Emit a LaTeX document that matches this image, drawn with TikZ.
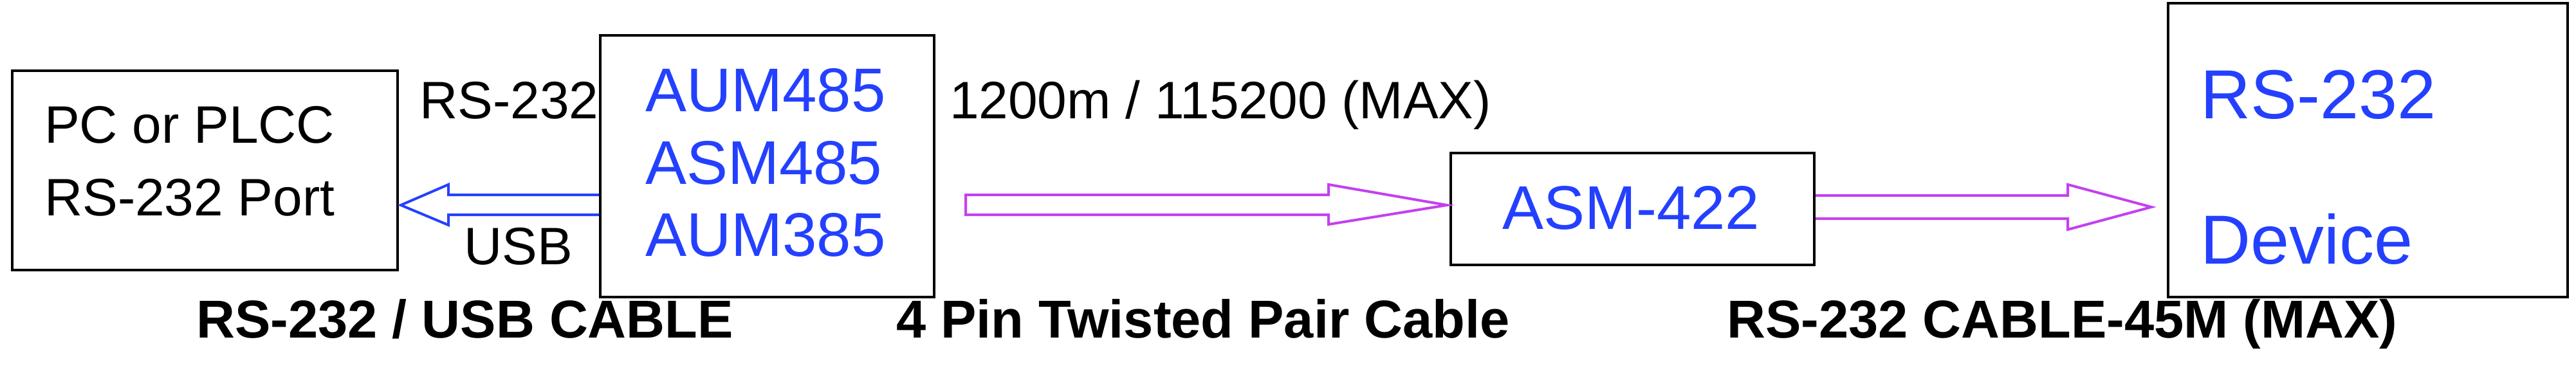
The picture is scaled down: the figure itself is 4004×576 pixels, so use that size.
\documentclass[tikz,border=0pt]{standalone}
\usepackage{fontspec}
\setmainfont{Liberation Sans}
\definecolor{tblue}{RGB}{36,64,255}
\definecolor{tmag}{RGB}{196,64,240}
\tikzset{
  box/.style={draw=black, line width=4pt, inner sep=0pt, minimum width=#1},
  lbl/.style={anchor=base west, inner sep=0pt, font=\fontsize{82}{98}\selectfont},
  blbl/.style={anchor=base west, inner sep=0pt, font=\fontsize{83}{99}\selectfont\bfseries},
  btxt/.style={anchor=base west, inner sep=0pt, text=tblue, font=\fontsize{96}{113}\selectfont},
  bigtxt/.style={anchor=base west, inner sep=0pt, text=tblue, font=\fontsize{108}{128}\selectfont},
  blockarrow/.style={line width=4pt, line join=miter}
}
\begin{document}
\begin{tikzpicture}[x=1pt,y=-1pt]
\useasboundingbox (0,0) rectangle (4004,576);
% boxes
\node[box=599pt, minimum height=310pt] (pc) at (318.5,265) {};
\node[box=519pt, minimum height=407pt] (aum) at (1192.5,258.5) {};
\node[box=565pt, minimum height=174pt] (asm) at (2537.5,325) {};
\node[box=621pt, minimum height=457pt] (dev) at (3680.5,233.5) {};
% texts
\node[lbl] (pc1) at (69,222) {PC or PLCC};
\node[lbl] (pc2) at (69,335) {RS-232 Port};
\node[lbl] (rs) at (652,184) {RS-232};
\node[lbl] (usb) at (721,411) {USB};
\node[lbl] (dist) at (1476,184) {1200m / 115200 (MAX)};
\node[btxt] (a1) at (1003,173) {AUM485};
\node[btxt] (a2) at (1003,286) {ASM485};
\node[btxt] (a3) at (1003,398) {AUM385};
\node[btxt] (a4) at (2335,356) {ASM-422};
\node[bigtxt] (d1) at (3420,184) {RS-232};
\node[bigtxt] (d2) at (3420,410) {Device};
\node[blbl] (c1) at (305,525) {RS-232 / USB CABLE};
\node[blbl] (c2) at (1393,525) {4 Pin Twisted Pair Cable};
\node[blbl] (c3) at (2684,525) {RS-232 CABLE-45M (MAX)};
% arrows
\coordinate (btip) at (623,319);
\draw[blockarrow, tblue] (aum.west |- 0,303) -- (697,303) -- (697,287) -- (btip)
  -- (697,350) -- (697,334) -- (aum.west |- 0,334);
\coordinate (m1tip) at (2249,319);
\draw[blockarrow, tmag] (1501,303) -- (2065,303) -- (2065,287) -- (m1tip)
  -- (2065,349) -- (2065,334) -- (1501,334) -- cycle;
\coordinate (m2tip) at (3344,322);
\draw[blockarrow, tmag] (asm.east |- 0,304) -- (3214,304) -- (3214,287) -- (m2tip)
  -- (3214,357) -- (3214,340) -- (asm.east |- 0,340);
\end{tikzpicture}
\end{document}
